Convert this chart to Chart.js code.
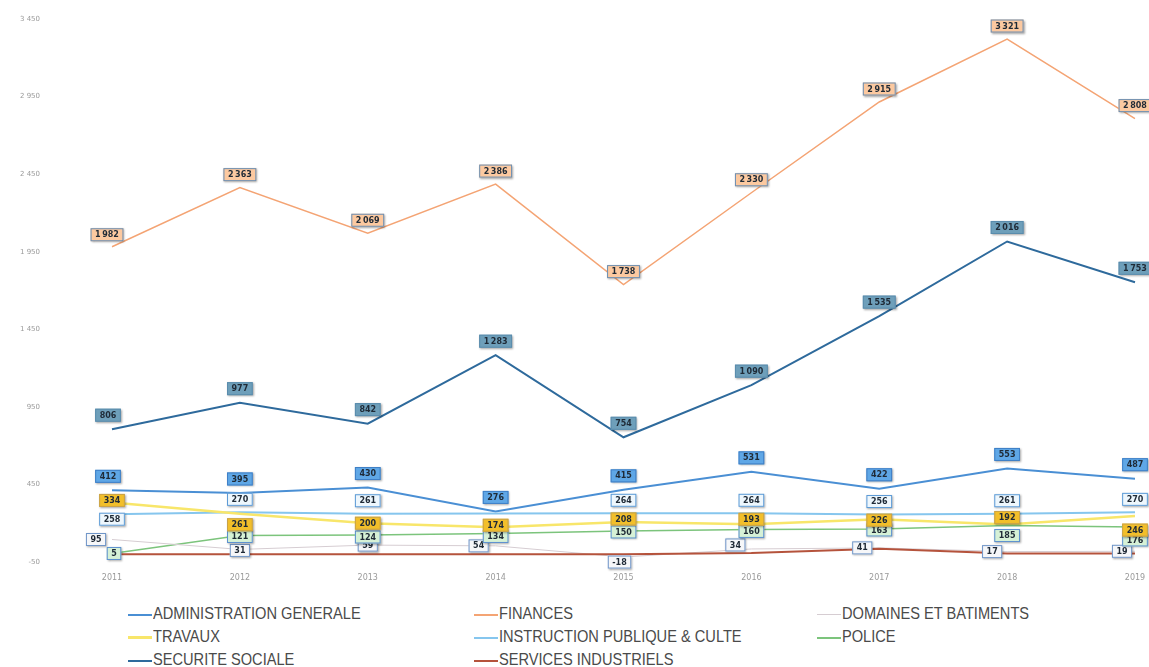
<!DOCTYPE html>
<html>
<head>
<meta charset="utf-8">
<script src="https://cdn.jsdelivr.net/npm/chart.js@4/dist/chart.umd.min.js"></script>
<style>
  body { margin: 0; background: #fff; }
  .wrap { position: relative; width: 1149px; height: 667px; }
  #legend { position: absolute; left: 0; top: 603px; width: 1149px; font-family: "Liberation Sans", sans-serif; font-size: 17px; color: #4a4a4a; }
  .item { position: absolute; height: 22px; line-height: 22px; white-space: nowrap; }
  .item span.sw { display: inline-block; width: 24px; vertical-align: middle; margin-right: 1px; }
  .item span.tx { display: inline-block; transform: scaleX(0.86); transform-origin: left center; }
</style>
</head>
<body>
<div class="wrap">
  <canvas id="chart" width="1149" height="595"></canvas>
  <div id="legend"></div>
</div>
<script>
// years on the x axis
const years = ["2011", "2012", "2013", "2014", "2015", "2016", "2017", "2018", "2019"];

// series values
const adminGenerale = [412, 395, 430, 276, 415, 531, 422, 553, 487];
const finances = [1982, 2363, 2069, 2386, 1738, 2330, 2915, 3321, 2808];
const domaines = [95, 31, 59, 54, -18, 34, 41, 17, 19];
const travaux = [334, 261, 200, 174, 208, 193, 226, 192, 246];
const instruction = [258, 270, 261, 262, 264, 264, 256, 261, 270];
const police = [5, 121, 124, 134, 150, 160, 163, 185, 176];
const securiteSociale = [806, 977, 842, 1283, 754, 1090, 1535, 2016, 1753];
const servicesIndustriels = [0, 0, 0, 0, 0, 8, 35, 5, 5];

// y axis ticks
const yTicks = [-50, 450, 950, 1450, 1950, 2450, 2950, 3450];

const fmt = (v, sep) => {
  const s = Math.abs(v).toString().replace(/\B(?=(\d{3})+(?!\d))/g, sep);
  return (v < 0 ? "-" : "") + s;
};

// draws the little boxed value callouts
const valueLabels = {
  id: "valueLabels",
  afterDatasetsDraw(chart) {
    const ctx = chart.ctx;
    ctx.save();
    ctx.font = "bold 8px 'DejaVu Sans'";
    ctx.textAlign = "center";
    ctx.textBaseline = "middle";
    chart.data.datasets.forEach((ds, i) => {
      if (!ds.labelFill) return;
      const meta = chart.getDatasetMeta(i);
      meta.data.forEach((pt, j) => {
        if (ds.labelHide && ds.labelHide.includes(j)) return;
        const sh = (ds.labelShift && ds.labelShift[j]) || [0, ds.labelDy || 0];
        const txt = fmt(ds.data[j], "\u2009");
        const w = ctx.measureText(txt).width + 9;
        const h = 13;
        const x = pt.x + sh[0], y = pt.y + sh[1];
        ctx.shadowColor = "rgba(0,0,0,0.35)";
        ctx.shadowBlur = 2;
        ctx.shadowOffsetX = 1;
        ctx.shadowOffsetY = 1;
        ctx.fillStyle = ds.labelFill;
        ctx.fillRect(x - w / 2, y - h / 2, w, h);
        ctx.shadowColor = "transparent";
        ctx.strokeStyle = ds.labelBorder || "#5b8fcf";
        ctx.lineWidth = 1;
        ctx.strokeRect(x - w / 2 + 0.5, y - h / 2 + 0.5, w - 1, h - 1);
        ctx.fillStyle = "#1f2a36";
        ctx.fillText(txt, x, y + 0.5);
      });
    });
    ctx.restore();
  }
};

const chart = new Chart(document.getElementById("chart"), {
  type: "line",
  data: {
    labels: years,
    datasets: [
      { label: "SERVICES INDUSTRIELS", data: servicesIndustriels, borderColor: "#b5533c", borderWidth: 2 },
      { label: "DOMAINES ET BATIMENTS", data: domaines, borderColor: "#d6cdd2", borderWidth: 1,
        labelFill: "#f6f7f9", labelBorder: "#6f95c8", labelDy: 0,
        labelShift: [[-16, 0], [0, 1], [0, 0], [-17, 0], [-4, 5], [-16, -4], [-17, 0], [-15, 0], [-13, 0]] },
      { label: "POLICE", data: police, borderColor: "#7cc47c", borderWidth: 1.5,
        labelFill: "#d6f1d6", labelBorder: "#5b8fcf", labelDy: 0,
        labelShift: [[2, 0], [0, 1], [0, 2], [0, 3], [0, 1], [0, 2], [0, 1], [0, 10], [0, 13]] },
      { label: "TRAVAUX", data: travaux, borderColor: "#f8e66a", borderWidth: 2.5,
        labelFill: "#f2bf2a", labelBorder: "#c8a24a", labelDy: 0,
        labelShift: [[0, -2], [0, 11], [0, 0], [0, -2], [0, -3], [0, -5], [0, 1], [0, -7], [0, 14]] },
      { label: "INSTRUCTION PUBLIQUE & CULTE", data: instruction, borderColor: "#86c6ee", borderWidth: 2,
        labelFill: "#eef7fd", labelBorder: "#5b9ad6", labelDy: -13, labelHide: [3],
        labelShift: [[0, 5]] },
      { label: "ADMINISTRATION GENERALE", data: adminGenerale, borderColor: "#4a8fd4", borderWidth: 2,
        labelFill: "#5fa7e6", labelBorder: "#3f7fc6", labelDy: -14,
        labelShift: [[-4, -14]] },
      { label: "SECURITE SOCIALE", data: securiteSociale, borderColor: "#2e6a9c", borderWidth: 2,
        labelFill: "#6e9fba", labelBorder: "#5a8cad", labelDy: -14,
        labelShift: [[-4, -14]] },
      { label: "FINANCES", data: finances, borderColor: "#f4a474", borderWidth: 1.5,
        labelFill: "#fcc9a0", labelBorder: "#6b8fb4", labelDy: -13,
        labelShift: [[-5, -12]] }
    ]
  },
  options: {
    responsive: false,
    animation: false,
    layout: { padding: { top: 19, right: 14, left: 0, bottom: 0 } },
    elements: {
      point: { radius: 0, hoverRadius: 0 },
      line: { tension: 0, fill: false }
    },
    plugins: {
      legend: { display: false },
      tooltip: { enabled: false }
    },
    scales: {
      x: {
        offset: false,
        grid: { display: false, drawTicks: false },
        border: { display: false },
        ticks: { color: "#9a9a9a", font: { size: 8, family: "DejaVu Sans" }, padding: 11, maxRotation: 0 },
        afterFit: (s) => { s.height = 33; s.paddingLeft = 0; s.paddingRight = 0; }
      },
      y: {
        min: -50,
        max: 3450,
        grid: { display: false, drawTicks: false },
        border: { display: false },
        afterBuildTicks: (s) => { s.ticks = yTicks.map((v) => ({ value: v })); },
        ticks: {
          color: "#9a9a9a",
          font: { size: 7, family: "DejaVu Sans" },
          padding: 72,
          callback: (v) => fmt(v, " ")
        },
        afterFit: (s) => { s.width = 112; s.paddingTop = 0; s.paddingBottom = 0; }
      }
    }
  },
  plugins: [valueLabels]
});

// legend in three columns like the original
const legendOrder = [
  ["ADMINISTRATION GENERALE", 128, 0], ["FINANCES", 474, 0], ["DOMAINES ET BATIMENTS", 817, 0],
  ["TRAVAUX", 128, 1], ["INSTRUCTION PUBLIQUE & CULTE", 474, 1], ["POLICE", 817, 1],
  ["SECURITE SOCIALE", 128, 2], ["SERVICES INDUSTRIELS", 474, 2]
];
const legendEl = document.getElementById("legend");
legendOrder.forEach(([name, left, row]) => {
  const ds = chart.data.datasets.find((d) => d.label === name);
  const div = document.createElement("div");
  div.className = "item";
  div.style.left = left + "px";
  div.style.top = (row * 23) + "px";
  const sw = document.createElement("span");
  sw.className = "sw";
  sw.style.borderTop = Math.max(1, Math.round(ds.borderWidth)) + "px solid " + ds.borderColor;
  div.appendChild(sw);
  const tx = document.createElement("span");
  tx.className = "tx";
  tx.textContent = name;
  div.appendChild(tx);
  legendEl.appendChild(div);
});
</script>
</body>
</html>
